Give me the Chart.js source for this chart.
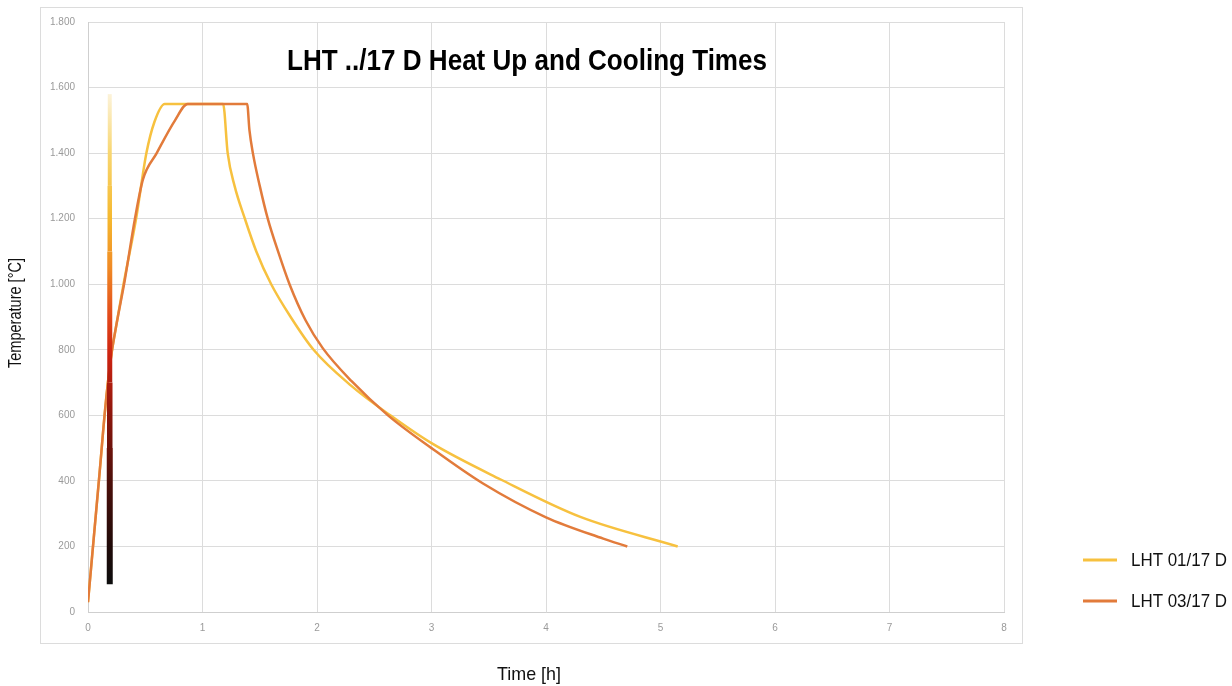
<!DOCTYPE html>
<html>
<head>
<meta charset="utf-8">
<title>LHT ../17 D Heat Up and Cooling Times</title>
<script src="https://cdn.jsdelivr.net/npm/chart.js@4.4.1/dist/chart.umd.min.js"></script>
<style>
  html, body { margin: 0; padding: 0; background: #fff; }
  #wrap { width: 1232px; height: 686px; }
</style>
</head>
<body>
<div id="wrap"><canvas id="chart" width="1232" height="686"></canvas></div>
<script>
// Texte
const chartTitle = 'LHT ../17 D Heat Up and Cooling Times';
const xTitle = 'Time [h]';
const yTitle = 'Temperature [°C]';
const seriesNames = ['LHT 01/17 D', 'LHT 03/17 D'];

// LHT 01/17 D (Zeit in h, Temperatur in °C)
const lht01Time = [0, 0.1, 0.15, 0.2, 0.25, 0.31, 0.42, 0.51, 0.58, 0.67, 1.18, 1.22, 1.28, 1.37, 1.47, 1.6, 1.77, 1.97, 2.3, 2.64, 3.0, 3.6, 4.3, 5.15];
const lht01Temp = [30, 420, 620, 775, 880, 1000, 1200, 1400, 1495, 1550, 1550, 1400, 1300, 1200, 1100, 1000, 900, 800, 690, 600, 515, 405, 290, 200];

// LHT 03/17 D
const lht03Time = [0, 0.1, 0.15, 0.2, 0.25, 0.32, 0.41, 0.48, 0.6, 0.76, 0.87, 1.39, 1.41, 1.44, 1.5, 1.57, 1.66, 1.76, 1.9, 2.05, 2.3, 2.62, 3.0, 3.45, 4.0, 4.5, 4.71];
const lht03Temp = [30, 420, 620, 775, 880, 1010, 1200, 1320, 1400, 1500, 1550, 1550, 1470, 1400, 1300, 1200, 1100, 1000, 890, 805, 705, 600, 500, 392, 289, 224, 200];

// Farbverlaufs-Balken (Thermometer) bei ca. 0,19 h
const barTime = [0.19, 0.19, 0.19, 0.19, 0.19, 0.19, 0.19, 0.19];
const barTemp = [85, 300, 500, 700, 900, 1100, 1300, 1580];

// Achsen
const xTicks = [0, 1, 2, 3, 4, 5, 6, 7, 8];
const yTicks = [0, 200, 400, 600, 800, 1000, 1200, 1400, 1600, 1800];

// Stil
const sans = "'Liberation Sans', Arial, sans-serif";
const colors = ['#f7c13f', '#e27b3b'];
const barWidths = [6, 6, 5.5, 5, 5, 4.5, 4];
const barStops = [
  [85, '#0d0d0d'], [200, '#1f0a08'], [400, '#4d0f0a'], [600, '#8c160c'],
  [780, '#cc2210'], [900, '#e2481a'], [1050, '#f08a25'], [1200, '#f5b82e'],
  [1400, '#f8d670'], [1580, '#fcf3da']
];

const toPoints = (xs, ys) => xs.map((x, i) => ({ x: x, y: ys[i] }));
const fmtThousands = v => String(v).replace(/\B(?=(\d{3})+(?!\d))/g, '.');

function barGradient(ctx) {
  const chart = ctx.chart;
  if (!chart.chartArea) return '#000';
  const y = chart.scales.y;
  const first = barStops[0][0];
  const last = barStops[barStops.length - 1][0];
  const g = chart.ctx.createLinearGradient(0, y.getPixelForValue(first), 0, y.getPixelForValue(last));
  barStops.forEach(([t, c]) => g.addColorStop((t - first) / (last - first), c));
  return g;
}

// schmale Schrift nachbilden: Text auf feste Breite stauchen
function squeezed(ctx, text, x, y, font, width) {
  ctx.font = font;
  ctx.fillText(text, x, y, width);
}

// Rahmen um den Diagrammbereich
const frameBox = {
  id: 'frameBox',
  beforeDraw(chart) {
    const ctx = chart.ctx;
    ctx.save();
    ctx.strokeStyle = '#dcdcdc';
    ctx.lineWidth = 1;
    ctx.strokeRect(40.5, 7.5, 982, 636);
    ctx.restore();
  }
};

// Titel und Achsentitel
const texts = {
  id: 'texts',
  afterDraw(chart) {
    const ctx = chart.ctx;
    const area = chart.chartArea;
    ctx.save();
    ctx.textAlign = 'center';
    ctx.textBaseline = 'middle';
    ctx.fillStyle = '#000';
    squeezed(ctx, chartTitle, 527, 62, 'bold 30px ' + sans, 480);

    ctx.fillStyle = '#111';
    squeezed(ctx, xTitle, 529, 675, '19px ' + sans, 64);

    ctx.translate(16, (area.top + area.bottom) / 2 - 4);
    ctx.rotate(-Math.PI / 2);
    squeezed(ctx, yTitle, 0, 0, '19px ' + sans, 110);
    ctx.restore();
  }
};

// Legende rechts unten
const sideLegend = {
  id: 'sideLegend',
  afterDraw(chart) {
    const ctx = chart.ctx;
    ctx.save();
    ctx.textBaseline = 'middle';
    chart.data.datasets.filter(ds => !ds.hideInLegend).forEach((ds, i) => {
      const y = 560 + i * 41;
      ctx.strokeStyle = ds.borderColor;
      ctx.lineWidth = 3;
      ctx.beginPath();
      ctx.moveTo(1083, y);
      ctx.lineTo(1117, y);
      ctx.stroke();
      ctx.fillStyle = '#111';
      squeezed(ctx, ds.label, 1131, y + 1, '19px ' + sans, 96);
    });
    ctx.restore();
  }
};

new Chart(document.getElementById('chart'), {
  type: 'line',
  data: {
    datasets: [
      {
        label: 'bar',
        hideInLegend: true,
        data: toPoints(barTime, barTemp),
        borderColor: barGradient,
        borderWidth: 5,
        segment: { borderWidth: c => barWidths[c.p0DataIndex] },
        pointRadius: 0,
        order: 0
      },
      {
        label: seriesNames[0],
        data: toPoints(lht01Time, lht01Temp),
        borderColor: colors[0],
        borderWidth: 2.5,
        pointRadius: 0,
        cubicInterpolationMode: 'monotone',
        order: 2
      },
      {
        label: seriesNames[1],
        data: toPoints(lht03Time, lht03Temp),
        borderColor: colors[1],
        borderWidth: 2.5,
        pointRadius: 0,
        cubicInterpolationMode: 'monotone',
        order: 1
      }
    ]
  },
  options: {
    responsive: false,
    animation: false,
    layout: { padding: { top: 22, right: 228, bottom: 0, left: 0 } },
    plugins: {
      legend: { display: false },
      tooltip: { enabled: false }
    },
    scales: {
      x: {
        type: 'linear',
        min: xTicks[0],
        max: xTicks[xTicks.length - 1],
        afterBuildTicks: s => { s.ticks = xTicks.map(v => ({ value: v })); },
        afterFit: s => { s.height = 74; },
        grid: { color: '#dcdcdc', drawTicks: false },
        border: { color: '#cfcfcf' },
        ticks: { color: '#9a9a9a', font: { family: sans, size: 10 }, padding: 10 }
      },
      y: {
        min: yTicks[0],
        max: yTicks[yTicks.length - 1],
        afterBuildTicks: s => { s.ticks = yTicks.map(v => ({ value: v })); },
        afterFit: s => { s.width = 88; },
        grid: { color: '#dcdcdc', drawTicks: false },
        border: { color: '#cfcfcf' },
        ticks: { color: '#9a9a9a', font: { family: sans, size: 10 }, padding: 13, callback: v => fmtThousands(v) }
      }
    }
  },
  plugins: [frameBox, texts, sideLegend]
});
</script>
</body>
</html>
